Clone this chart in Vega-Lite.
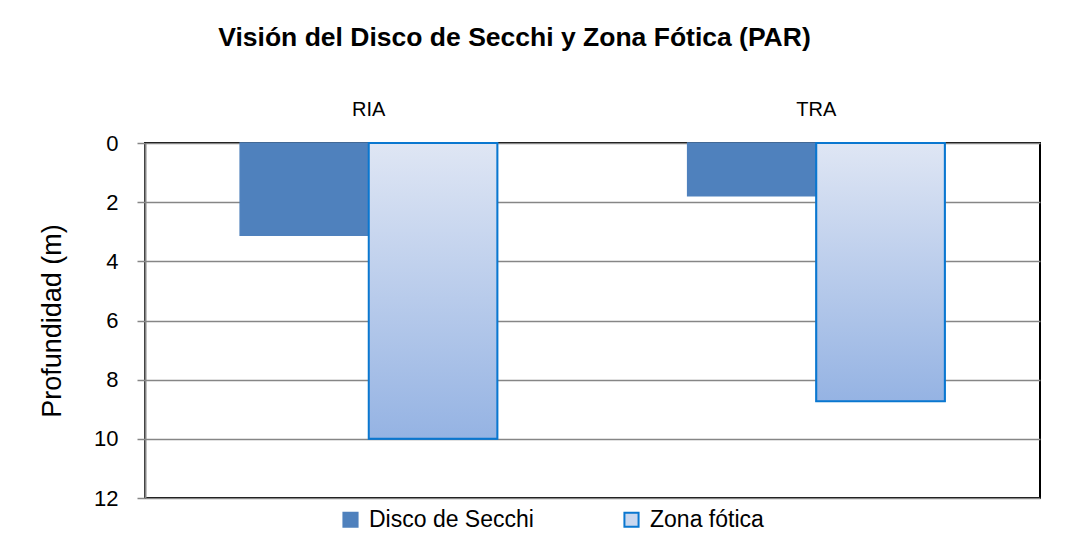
{
  "$schema": "https://vega.github.io/schema/vega-lite/v6.json",
  "width": 895,
  "height": 355,
  "autosize": "none",
  "padding": {"left": 145, "top": 143, "right": 29, "bottom": 50},
  "background": "white",
  "title": {
    "text": "Visión del Disco de Secchi y Zona Fótica (PAR)",
    "font": "Liberation Sans",
    "fontSize": 26.5,
    "fontWeight": "bold",
    "color": "#000000",
    "anchor": "middle",
    "offset": 48,
    "dx": -78
  },
  "data": {
    "values": [
      {"sitio": "RIA", "serie": "Disco de Secchi", "prof": 3.12},
      {"sitio": "RIA", "serie": "Zona fótica", "prof": 10},
      {"sitio": "TRA", "serie": "Disco de Secchi", "prof": 1.78},
      {"sitio": "TRA", "serie": "Zona fótica", "prof": 8.73}
    ]
  },
  "config": {
    "font": "Liberation Sans",
    "view": {"stroke": "#000000", "strokeWidth": 2}
  },
  "encoding": {
    "x": {
      "field": "sitio",
      "type": "nominal",
      "scale": {"paddingInner": 0, "paddingOuter": 0},
      "axis": {
        "orient": "top",
        "title": null,
        "labelAngle": 0,
        "domain": false,
        "ticks": false,
        "labelPadding": 24,
        "labelFontSize": 20,
        "labelColor": "#000000"
      }
    },
    "xOffset": {
      "field": "serie",
      "type": "nominal",
      "scale": {"paddingInner": 0, "paddingOuter": 0.74}
    },
    "y": {
      "field": "prof",
      "type": "quantitative",
      "scale": {"domain": [0, 12], "reverse": true, "nice": false, "zero": true},
      "axis": {
        "values": [0, 2, 4, 6, 8, 10, 12],
        "title": "Profundidad (m)",
        "titleFontSize": 27,
        "titleFontWeight": "normal",
        "titleColor": "#000000",
        "titlePadding": 27,
        "labelFontSize": 22,
        "labelColor": "#000000",
        "labelPadding": 19,
        "tickSize": 8,
        "tickColor": "#868686",
        "tickWidth": 1.5,
        "domainColor": "#868686",
        "domainWidth": 2,
        "grid": true,
        "gridColor": "#868686",
        "gridWidth": 1.5
      }
    }
  },
  "layer": [
    {
      "mark": {"type": "bar", "strokeWidth": 1.5},
      "encoding": {
        "color": {
          "field": "serie",
          "type": "nominal",
          "scale": {"domain": ["Disco de Secchi", "Zona fótica"], "range": ["#4F81BD", "#C9D7EF"]},
          "legend": {
            "orient": "none",
            "legendX": 194,
            "legendY": 365,
            "direction": "horizontal",
            "title": null,
            "symbolType": "square",
            "symbolSize": 200,
            "symbolStrokeWidth": 2,
            "symbolOpacity": 1,
            "labelFontSize": 23,
            "labelLimit": 400,
            "labelColor": "#000000",
            "labelOffset": 7,
            "columnPadding": 86
          }
        },
        "stroke": {
          "field": "serie",
          "type": "nominal",
          "scale": {"domain": ["Disco de Secchi", "Zona fótica"], "range": ["#4F81BD", "#0A77D0"]},
          "legend": {
            "orient": "none",
            "legendX": 194,
            "legendY": 365,
            "direction": "horizontal",
            "title": null,
            "symbolType": "square",
            "symbolSize": 200,
            "symbolStrokeWidth": 2,
            "labelFontSize": 23,
            "labelLimit": 400,
            "labelColor": "#000000",
            "labelOffset": 7,
            "columnPadding": 86
          }
        }
      }
    },
    {
      "transform": [{"filter": "datum.serie === 'Zona fótica'"}],
      "mark": {
        "type": "bar",
        "fill": {
          "gradient": "linear",
          "x1": 0, "y1": 0, "x2": 0, "y2": 1,
          "stops": [
            {"offset": 0, "color": "#DFE6F4"},
            {"offset": 1, "color": "#95B3E3"}
          ]
        },
        "stroke": "#0A77D0",
        "strokeWidth": 2
      }
    }
  ]
}
